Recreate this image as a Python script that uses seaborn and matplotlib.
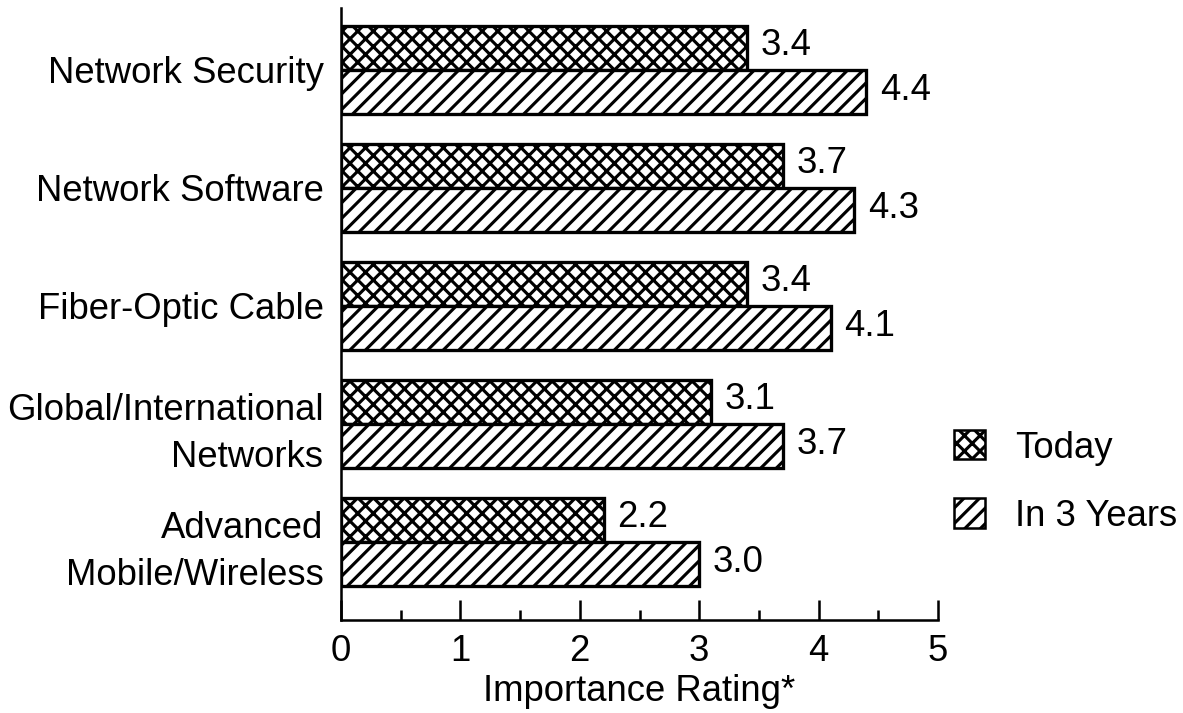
import matplotlib
matplotlib.use("Agg")
import matplotlib.pyplot as plt
import seaborn as sns
import pandas as pd
from matplotlib.patches import Patch
from matplotlib.ticker import MultipleLocator

# Ratings per networking technology
categories = [
    "Network Security",
    "Network Software",
    "Fiber-Optic Cable",
    "Global/International\nNetworks",
    "Advanced\nMobile/Wireless",
]
today = [3.4, 3.7, 3.4, 3.1, 2.2]
in_3_years = [4.4, 4.3, 4.1, 3.7, 3.0]
series = ["Today", "In 3 Years"]
series_hatches = ["xxx", "///"]
x_ticks = [0, 1, 2, 3, 4, 5]

sns.set_theme(style="white")
plt.rcParams["font.family"] = ["Liberation Sans", "DejaVu Sans"]
plt.rcParams.update({
    "hatch.linewidth": 1.6,
    "text.color": "black",
    "axes.labelcolor": "black",
    "xtick.color": "black",
    "ytick.color": "black",
    "axes.edgecolor": "black",
})

FS = 18.8

df = pd.DataFrame({
    "Category": categories * 2,
    "Series": [series[0]] * len(categories) + [series[1]] * len(categories),
    "Rating": today + in_3_years,
})

DPI = 140
W, H = 1183, 713
fig = plt.figure(figsize=(W / DPI, H / DPI), dpi=DPI)
fig.patch.set_facecolor("white")
ax = fig.add_axes([341 / W, 1 - 620 / H, (938 - 341) / W, (620 - 8) / H])

sns.barplot(
    data=df, y="Category", x="Rating", hue="Series",
    order=categories, hue_order=series, orient="h",
    width=0.75, palette=["white", "white"], saturation=1,
    edgecolor="black", linewidth=1.7, legend=False, ax=ax,
)

for container, hatch in zip(ax.containers, series_hatches):
    for bar in container:
        bar.set_hatch(hatch)
        bar.set_facecolor("white")
        bar.set_edgecolor("black")
    for bar in container:
        v = bar.get_width()
        yc = bar.get_y() + bar.get_height() / 2
        ax.annotate(f"{v:.1f}", xy=(v, yc), xytext=(7, 1),
                    textcoords="offset points", ha="left", va="center",
                    fontsize=FS)

ax.set_xlim(0, 5)
ax.set_ylim(4.661, -0.525)
ax.set_xticks(x_ticks)
ax.set_xticklabels([str(t) for t in x_ticks])
ax.xaxis.set_minor_locator(MultipleLocator(0.5))

ax.tick_params(axis="x", which="major", bottom=True, direction="in",
               length=10.3, width=1.3, pad=7, labelsize=FS)
ax.tick_params(axis="x", which="minor", bottom=True, direction="in",
               length=5, width=1.3)
ax.tick_params(axis="y", left=False, length=0, pad=9, labelsize=FS)
for lbl in ax.get_yticklabels():
    lbl.set_horizontalalignment("right")
    lbl.set_multialignment("right")
    lbl.set_linespacing(1.45)

for side in ("top", "right"):
    ax.spines[side].set_visible(False)
for side in ("left", "bottom"):
    ax.spines[side].set_linewidth(1.3)

ax.set_ylabel("")
ax.set_xlabel("Importance Rating*", fontsize=FS, labelpad=3)
ax.set_facecolor("white")

handles = [Patch(facecolor="white", edgecolor="black", hatch=h, linewidth=1.3)
           for h in series_hatches]
fig.legend(handles, series, loc="center left",
           bbox_to_anchor=(954 / W, 1 - 482 / H), frameon=False,
           fontsize=FS, handlelength=0.85, handleheight=0.85,
           handletextpad=0.82, labelspacing=0.9, borderpad=0,
           borderaxespad=0)

fig.savefig("out.png", dpi=DPI, facecolor="white")
